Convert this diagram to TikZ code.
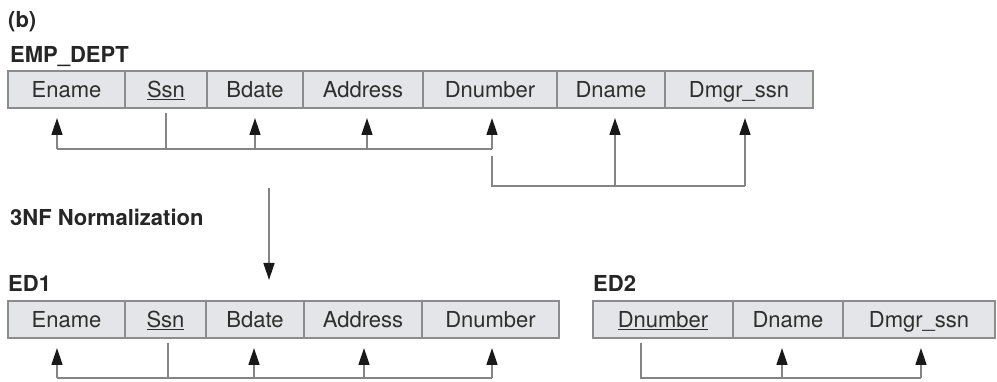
\documentclass[tikz,border=0pt]{standalone}
\usepackage{fontspec}
\setmainfont{TeX Gyre Heros}
\usetikzlibrary{arrows.meta, positioning}

\definecolor{cellfill}{HTML}{E4E5E8}
\definecolor{cellline}{HTML}{8C8C8C}
\definecolor{fdline}{HTML}{858585}
\definecolor{textgray}{HTML}{2E2E2E}

\begin{document}
\begin{tikzpicture}[
        x=1pt, y=-1pt,
        cell/.style={rectangle, draw=cellline, fill=cellfill, line width=1.4pt, minimum height=37pt, inner sep=0pt, outer sep=0pt, text height=15.8pt, text depth=0pt, text=textgray, font=\fontsize{22}{26}\selectfont},
        title/.style={anchor=base west, inner sep=0pt, text=black!85, font=\fontsize{22}{26}\selectfont\bfseries},
        line/.style={draw=fdline, line width=1.5pt},
        arrow/.style={line, -{Triangle[length=17pt, width=11pt, color=black!90]}}
    ]
        \useasboundingbox (0,0) rectangle (997,382);

        \node[title] (tagb) at (8,28) {(b)};
        \node[title] (emphead) at (10,63) {EMP\_DEPT};
        \node[title] (normhead) at (10,226) {3NF Normalization};
        \node[title] (ed1head) at (8,292) {ED1};
        \node[title] (ed2head) at (593,292) {ED2};

        \node[cell, minimum width=117pt, anchor=north west] (ename1) at (8,71) {Ename};
        \node[cell, minimum width=82pt, right=0pt of ename1] (ssn1) {\underline{Ssn}};
        \node[cell, minimum width=96pt, right=0pt of ssn1] (bdate1) {Bdate};
        \node[cell, minimum width=120pt, right=0pt of bdate1] (addr1) {Address};
        \node[cell, minimum width=134pt, right=0pt of addr1] (dnum1) {Dnumber};
        \node[cell, minimum width=108pt, right=0pt of dnum1] (dname1) {Dname};
        \node[cell, minimum width=148pt, right=0pt of dname1] (dmgr1) {Dmgr\_ssn};

        \node[cell, minimum width=117pt, anchor=north west] (ename2) at (8,301) {Ename};
        \node[cell, minimum width=81pt, right=0pt of ename2] (ssn2) {\underline{Ssn}};
        \node[cell, minimum width=98pt, right=0pt of ssn2] (bdate2) {Bdate};
        \node[cell, minimum width=118pt, right=0pt of bdate2] (addr2) {Address};
        \node[cell, minimum width=137pt, right=0pt of addr2] (dnum2) {Dnumber};

        \node[cell, minimum width=140pt, anchor=north west] (dnum3) at (593,301) {\underline{Dnumber}};
        \node[cell, minimum width=110pt, right=0pt of dnum3] (dname3) {Dname};
        \node[cell, minimum width=152pt, right=0pt of dname3] (dmgr3) {Dmgr\_ssn};

        \coordinate (bus1) at (0,149);
        \coordinate (bus2) at (0,186);
        \coordinate (bus3) at (0,378);

        % EMP_DEPT dependencies
        \draw[line] ([yshift=-5pt]ssn1.south) -- (ssn1.south |- bus1);
        \draw[line] ([xshift=-9.5pt]ename1.south |- bus1) -- ([xshift=2pt]dnum1.south |- bus1);
        \foreach \c/\dx in {ename1/-9.5, bdate1/0, addr1/4, dnum1/2}
            \draw[arrow] ([xshift=\dx pt]\c.south |- bus1) -- ([xshift=\dx pt, yshift=-10pt]\c.south);
        \draw[line] ([xshift=2pt, yshift=-48pt]dnum1.south) -- ([xshift=2pt]dnum1.south |- bus2) -- ([xshift=6pt]dmgr1.south |- bus2);
        \foreach \c/\dx in {dname1/4, dmgr1/6}
            \draw[arrow] ([xshift=\dx pt]\c.south |- bus2) -- ([xshift=\dx pt, yshift=-10pt]\c.south);

        \coordinate (normtop) at (269,188);
        \coordinate (normtip) at (269,280);
        \draw[arrow] (normtop) -- (normtip);

        % ED1 and ED2 dependencies
        \draw[line] ([xshift=2.5pt, yshift=-5pt]ssn2.south) -- ([xshift=2.5pt]ssn2.south |- bus3);
        \draw[line] ([xshift=-9.5pt]ename2.south |- bus3) -- ([xshift=1.5pt]dnum2.south |- bus3);
        \foreach \c/\dx in {ename2/-9.5, bdate2/-1, addr2/1, dnum2/1.5}
            \draw[arrow] ([xshift=\dx pt]\c.south |- bus3) -- ([xshift=\dx pt, yshift=-10pt]\c.south);
        \draw[line] ([xshift=-22pt, yshift=-5pt]dnum3.south) -- ([xshift=-22pt]dnum3.south |- bus3) -- ([xshift=2pt]dmgr3.south |- bus3);
        \foreach \c/\dx in {dname3/-6, dmgr3/2}
            \draw[arrow] ([xshift=\dx pt]\c.south |- bus3) -- ([xshift=\dx pt, yshift=-10pt]\c.south);
\end{tikzpicture}
\end{document}
